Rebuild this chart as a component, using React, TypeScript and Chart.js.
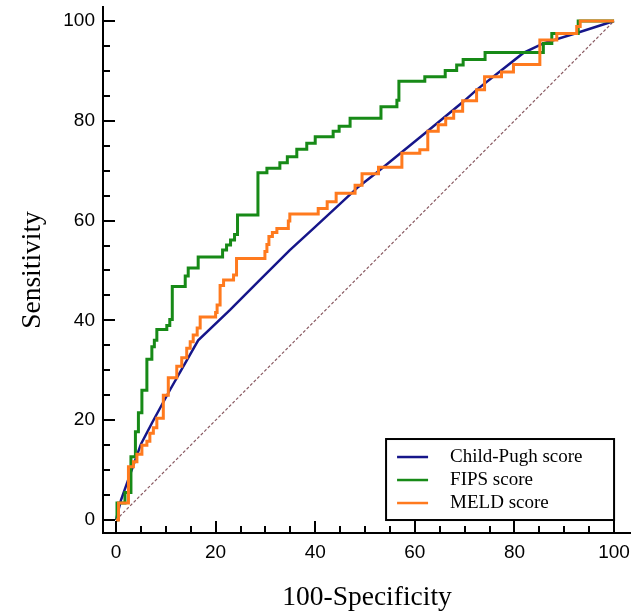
import React, { useEffect, useRef } from "react";
import { Chart, registerables } from "chart.js";

Chart.register(...registerables);

// ---- data ----
const xTickValues = [0, 20, 40, 60, 80, 100];
const yTickValues = [0, 20, 40, 60, 80, 100];
const minorTickStep = 5;
const seriesNames = ["Child-Pugh score", "FIPS score", "MELD score"];
const seriesColors = ["#16168a", "#178a17", "#ff7a1e"];

const childPughFpr = [0, 1.0, 5.0, 7.3, 10.8, 16.5, 22.9, 28.9, 34.9, 39.5, 44.6, 48.7, 52.3, 62.4, 69.7, 72.4, 81.8, 85.8, 92.5, 100];
const childPughTpr = [0, 4.0, 15.2, 19.6, 26.0, 36.0, 42.1, 48.1, 54.1, 58.3, 63.0, 66.8, 69.6, 77.8, 83.8, 86.2, 93.6, 95.5, 97.6, 100];

const fipsFpr = [0, 0.2, 1.8, 3.0, 3.9, 4.5, 5.2, 6.2, 7.2, 7.7, 8.2, 10.2, 10.8, 11.3, 13.9, 14.5, 16.5, 21.4, 22.2, 23.0, 23.8, 24.4, 28.5, 30.3, 32.9, 34.4, 36.3, 38.3, 40.0, 43.6, 44.8, 47.0, 53.2, 56.4, 56.8, 62.0, 66.1, 68.4, 69.7, 74.1, 85.8, 87.5, 92.8, 100];
const fipsTpr = [0, 3.4, 5.5, 12.7, 17.7, 21.5, 26.0, 32.2, 34.7, 36.0, 38.2, 39.0, 40.2, 46.8, 48.9, 50.5, 52.7, 54.1, 55.1, 56.1, 57.2, 61.1, 69.6, 70.5, 71.6, 72.8, 74.3, 75.5, 76.8, 77.9, 78.9, 80.5, 82.8, 84.1, 87.9, 88.8, 90.1, 91.2, 92.3, 93.7, 95.5, 97.5, 100, 100];

const meldFpr = [0, 0.5, 2.5, 3.5, 4.2, 5.2, 6.2, 6.8, 7.5, 8.2, 9.5, 10.5, 12.2, 13.2, 14.2, 14.9, 15.5, 16.3, 16.9, 20.0, 20.3, 20.9, 21.6, 23.6, 24.2, 29.9, 30.3, 30.7, 31.4, 32.3, 34.6, 34.9, 40.6, 42.4, 44.2, 48.0, 49.4, 52.7, 57.4, 61.0, 62.6, 64.7, 66.2, 67.8, 69.6, 72.4, 74.0, 77.4, 79.8, 85.1, 88.5, 92.5, 93.2, 100];
const meldTpr = [0, 3.4, 10.7, 11.7, 13.2, 15.0, 15.8, 17.4, 18.5, 20.4, 25.0, 28.5, 30.8, 32.5, 34.4, 35.7, 37.1, 38.5, 40.7, 41.6, 43.1, 47.0, 48.1, 49.1, 52.4, 53.8, 55.2, 56.8, 57.6, 58.4, 59.9, 61.3, 62.4, 63.8, 65.5, 67.1, 69.4, 70.7, 73.5, 74.2, 77.9, 79.2, 80.5, 81.9, 84.0, 86.2, 88.8, 89.8, 91.3, 96.2, 97.5, 98.9, 100, 100];

const referenceFpr = [0, 100];
const referenceTpr = [0, 100];

const toPoints = (xs: number[], ys: number[]) => xs.map((x, i) => ({ x, y: ys[i] }));

const clearPadding = (s: any) => {
  s.paddingTop = 0;
  s.paddingBottom = 0;
  s.paddingLeft = 0;
  s.paddingRight = 0;
};

const decorPlugin = {
  id: "decor",
  afterDraw(chart: any) {
    const { ctx, chartArea, scales } = chart;
    const xs = scales.x;
    const ys = scales.y;
    const ax = chartArea.left;
    const ay = chartArea.bottom;
    ctx.save();
    ctx.strokeStyle = "#000";
    ctx.lineWidth = 2;
    ctx.beginPath();
    for (let v = 0; v <= 100; v += minorTickStep) {
      const major = v % 20 === 0;
      const len = major ? 12 : 7;
      const py = Math.round(ys.getPixelForValue(v));
      ctx.moveTo(ax, py);
      ctx.lineTo(ax + len, py);
      const px = Math.round(xs.getPixelForValue(v));
      ctx.moveTo(px, ay);
      ctx.lineTo(px, ay - len);
    }
    ctx.stroke();

    // legend box
    const right = xs.getPixelForValue(100);
    const bottom = ys.getPixelForValue(0);
    const w = 228;
    const h = 81;
    const left = right - w;
    const top = bottom - h;
    ctx.fillStyle = "#fff";
    ctx.fillRect(left, top, w, h);
    ctx.lineWidth = 2;
    ctx.strokeStyle = "#000";
    ctx.strokeRect(left, top, w, h);
    ctx.font = "19px 'Liberation Serif'";
    ctx.textBaseline = "middle";
    ctx.textAlign = "left";
    seriesNames.forEach((name, i) => {
      const cy = top + 18 + i * 23;
      ctx.strokeStyle = seriesColors[i];
      ctx.lineWidth = 2.5;
      ctx.beginPath();
      ctx.moveTo(left + 11, cy);
      ctx.lineTo(left + 42, cy);
      ctx.stroke();
      ctx.fillStyle = "#000";
      ctx.fillText(name, left + 64, cy);
    });
    ctx.restore();
  },
};

export default function App() {
  const canvasRef = useRef<HTMLCanvasElement | null>(null);

  useEffect(() => {
    const canvas = canvasRef.current;
    if (!canvas) return;
    const chart = new Chart(canvas, {
      type: "line",
      data: {
        datasets: [
          {
            label: seriesNames[2],
            data: toPoints(meldFpr, meldTpr),
            borderColor: seriesColors[2],
            borderWidth: 3,
            stepped: "before",
            pointRadius: 0,
            fill: false,
          },
          {
            label: seriesNames[1],
            data: toPoints(fipsFpr, fipsTpr),
            borderColor: seriesColors[1],
            borderWidth: 3,
            stepped: "before",
            pointRadius: 0,
            fill: false,
          },
          {
            label: seriesNames[0],
            data: toPoints(childPughFpr, childPughTpr),
            borderColor: seriesColors[0],
            borderWidth: 2.5,
            tension: 0,
            pointRadius: 0,
            fill: false,
          },
          {
            label: "Reference",
            data: toPoints(referenceFpr, referenceTpr),
            borderColor: "#8a5a62",
            borderWidth: 1.2,
            borderDash: [3, 2],
            pointRadius: 0,
            fill: false,
          },
        ],
      },
      options: {
        responsive: true,
        maintainAspectRatio: false,
        animation: false,
        layout: { padding: { top: 7, right: 0, left: 0, bottom: 0 } },
        plugins: { legend: { display: false }, tooltip: { enabled: false } },
        scales: {
          x: {
            type: "linear",
            min: -2.61,
            max: 103.4,
            afterBuildTicks: (s: any) => {
              s.ticks = xTickValues.map((v) => ({ value: v }));
            },
            afterFit: (s: any) => {
              s.height = 81;
              clearPadding(s);
            },
            grid: { display: false, drawTicks: false },
            border: { display: true, color: "#000", width: 2 },
            ticks: {
              padding: 8,
              color: "#000",
              maxRotation: 0,
              autoSkip: false,
              font: { family: "'Liberation Sans'", size: 19 },
            },
            title: {
              display: true,
              text: "100-Specificity",
              color: "#000",
              font: { family: "'Liberation Serif'", size: 27.5 },
              padding: { top: 0, bottom: 0 },
            },
          },
          y: {
            type: "linear",
            min: -2.6,
            max: 102.8,
            afterBuildTicks: (s: any) => {
              s.ticks = yTickValues.map((v) => ({ value: v }));
            },
            afterFit: (s: any) => {
              s.width = 103;
              clearPadding(s);
            },
            grid: { display: false, drawTicks: false },
            border: { display: true, color: "#000", width: 2 },
            ticks: {
              padding: 8,
              color: "#000",
              autoSkip: false,
              font: { family: "'Liberation Sans'", size: 19 },
            },
            title: {
              display: true,
              text: "Sensitivity",
              color: "#000",
              font: { family: "'Liberation Serif'", size: 27.5 },
              padding: { top: 16, bottom: 0 },
            },
          },
        },
      },
      plugins: [decorPlugin],
    });
    return () => chart.destroy();
  }, []);

  return (
    <div style={{ position: "absolute", left: 0, top: 0, width: 631, height: 614, background: "#fff" }}>
      <canvas ref={canvasRef} />
    </div>
  );
}
